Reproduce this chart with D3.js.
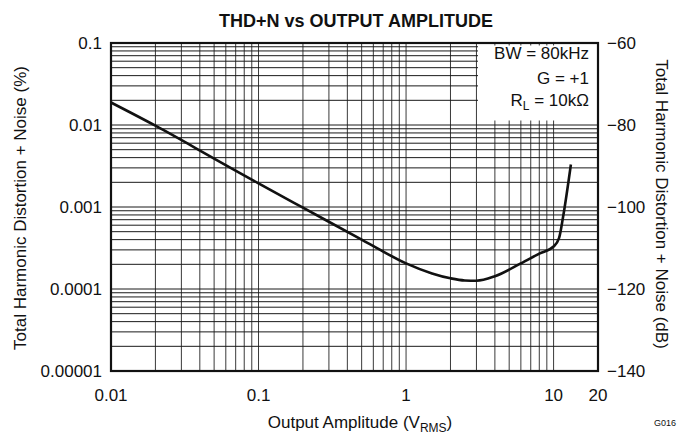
<!DOCTYPE html>
<html>
<head>
<meta charset="utf-8">
<script src="https://cdn.jsdelivr.net/npm/d3@7"></script>
<style>
html,body{margin:0;padding:0;background:#fff;}
svg{display:block;}
text{font-family:"Liberation Sans",Arial,Helvetica,sans-serif;fill:#111;}
</style>
</head>
<body>
<svg id="chart" width="689" height="440"></svg>
<script>
// Data
const amplitude = [0.01, 0.02, 0.05, 0.1, 0.2, 0.5, 0.7, 1.0, 1.5, 2.0, 2.5, 3.0, 4.0, 6.0, 8.0, 10.0, 10.9, 11.6, 13.1];
const thdn      = [0.0188, 0.0098, 0.0039, 0.00194, 0.00098, 0.0004, 0.000286, 0.000205, 0.000155, 0.000135, 0.000127, 0.000126, 0.000143, 0.000205, 0.00027, 0.00033, 0.00042, 0.00076, 0.0033];
const xTicks = [0.01, 0.1, 1, 10, 20];
const xTickLabels = ["0.01", "0.1", "1", "10", "20"];
const yTicks = [0.1, 0.01, 0.001, 0.0001, 0.00001];
const yTickLabels = ["0.1", "0.01", "0.001", "0.0001", "0.00001"];
const dbTicks = [-60, -80, -100, -120, -140];
const legendLines = ["BW = 80kHz", "G = +1"];

const svg = d3.select("#chart");
const X0 = 111, X1 = 598, Y0 = 43, Y1 = 371;
const x = d3.scaleLog().domain([0.01, 20]).range([X0, X1]);
const y = d3.scaleLog().domain([0.00001, 0.1]).range([Y1, Y0]);
const yDb = d3.scaleLinear().domain([-140, -60]).range([Y1, Y0]);

// grid values
const xGrid = [];
[0.01, 0.1, 1, 10].forEach(d => { for (let k = 1; k <= 9; k++) { const v = d * k; if (v > 0.01 && v < 20) xGrid.push(v); } });
const yGrid = [];
[0.00001, 0.0001, 0.001, 0.01].forEach(d => { for (let k = 1; k <= 9; k++) { const v = d * k; if (v > 0.00001 && v < 0.1) yGrid.push(v); } });

const g = svg.append("g");
g.selectAll("line.vg").data(xGrid).join("line")
  .attr("x1", d => x(d)).attr("x2", d => x(d)).attr("y1", Y0).attr("y2", Y1)
  .attr("stroke", "#3a3a3a").attr("stroke-width", 1);
g.selectAll("line.hg").data(yGrid).join("line")
  .attr("x1", X0).attr("x2", X1).attr("y1", d => y(d)).attr("y2", d => y(d))
  .attr("stroke", "#1a1a1a").attr("stroke-width", 1);

// legend box (white)
svg.append("rect").attr("x", 478).attr("y", 45.5).attr("width", X1 - 478).attr("height", 75).attr("fill", "#fff");

// frame
svg.append("rect").attr("x", X0).attr("y", Y0).attr("width", X1 - X0).attr("height", Y1 - Y0)
  .attr("fill", "none").attr("stroke", "#111").attr("stroke-width", 2.2);

// curve
const line = d3.line().x((d, i) => x(amplitude[i])).y((d, i) => y(thdn[i])).curve(d3.curveMonotoneX);
svg.append("path").attr("d", line(thdn)).attr("fill", "none").attr("stroke", "#111").attr("stroke-width", 2.6).attr("stroke-linejoin", "round");

// axes labels
const fs = 17;
svg.selectAll("text.yl").data(yTicks).join("text")
  .attr("x", 102).attr("y", d => y(d) + 6).attr("text-anchor", "end").attr("font-size", fs)
  .text((d, i) => yTickLabels[i]);
svg.selectAll("text.yr").data(dbTicks).join("text")
  .attr("x", 607).attr("y", d => yDb(d) + 6).attr("text-anchor", "start").attr("font-size", fs)
  .text(d => (d < 0 ? "\u2212" + Math.abs(d) : d));
svg.selectAll("text.xl").data(xTicks).join("text")
  .attr("x", d => x(d)).attr("y", 401).attr("text-anchor", "middle").attr("font-size", fs)
  .text((d, i) => xTickLabels[i]);

// title
svg.append("text").attr("x", 356).attr("y", 27).attr("text-anchor", "middle")
  .attr("font-size", 18).attr("font-weight", "bold").text("THD+N vs OUTPUT AMPLITUDE");

// x title
const xt = svg.append("text").attr("x", 360).attr("y", 428).attr("text-anchor", "middle").attr("font-size", fs);
xt.append("tspan").text("Output Amplitude (V");
xt.append("tspan").attr("font-size", 12).attr("dy", 4).text("RMS");
xt.append("tspan").attr("dy", -4).text(")");

// left title
svg.append("text").attr("transform", "translate(26,208) rotate(-90)").attr("text-anchor", "middle")
  .attr("font-size", fs).text("Total Harmonic Distortion + Noise (%)");
// right title
svg.append("text").attr("transform", "translate(656,204) rotate(90)").attr("text-anchor", "middle")
  .attr("font-size", fs).text("Total Harmonic Distortion + Noise (dB)");

// legend text
svg.append("text").attr("x", 589).attr("y", 59).attr("text-anchor", "end").attr("font-size", fs).text(legendLines[0]);
svg.append("text").attr("x", 589).attr("y", 84).attr("text-anchor", "end").attr("font-size", fs).text(legendLines[1]);
const rl = svg.append("text").attr("x", 589).attr("y", 106).attr("text-anchor", "end").attr("font-size", fs);
rl.append("tspan").text("R");
rl.append("tspan").attr("font-size", 12).attr("dy", 4).text("L");
rl.append("tspan").attr("dy", -4).text(" = 10k\u03A9");

// figure id
svg.append("text").attr("x", 665).attr("y", 426).attr("text-anchor", "middle").attr("font-size", 9).text("G016");
</script>
</body>
</html>
